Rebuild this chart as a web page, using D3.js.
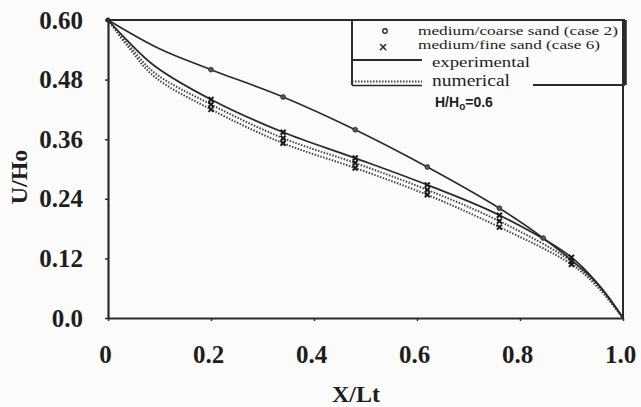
<!DOCTYPE html>
<html>
<head>
<meta charset="utf-8">
<script src="https://cdn.jsdelivr.net/npm/d3@7"></script>
<style>
  html, body { margin: 0; padding: 0; background: #fbfbfa; }
  svg { display: block; }
</style>
</head>
<body>
<svg id="chart" width="641" height="407"></svg>
<script>
// Dimensionless distance along the section, X/Lt
const xTicks = [0, 0.2, 0.4, 0.6, 0.8, 1.0];
const xTickLabels = ["0", "0.2", "0.4", "0.6", "0.8", "1.0"];
const yTicks = [0, 0.12, 0.24, 0.36, 0.48, 0.60];
const yTickLabels = ["0.0", "0.12", "0.24", "0.36", "0.48", "0.60"];

// Experimental, medium/coarse sand (case 2)
const exp2X = [0, 0.1, 0.2, 0.34, 0.48, 0.62, 0.76, 0.845, 0.95, 1.0];
const exp2Y = [0.6, 0.542, 0.5, 0.445, 0.379, 0.304, 0.221, 0.161, 0.07, 0];
const exp2Marked = [false, false, true, true, true, true, true, true, false, false];

// Experimental, medium/fine sand (case 6)
const exp6X = [0, 0.04, 0.09, 0.2, 0.34, 0.48, 0.62, 0.76, 0.9, 0.95, 1.0];
const exp6Y = [0.6, 0.556, 0.508, 0.44, 0.374, 0.322, 0.268, 0.207, 0.122, 0.07, 0];
const exp6Marked = [false, false, false, true, true, true, true, true, true, false, false];

// Numerical, case 2 and case 6
const numX = [0, 0.04, 0.09, 0.2, 0.34, 0.48, 0.62, 0.76, 0.9, 0.95, 1.0];
const num2Y = [0.6, 0.55, 0.494, 0.43, 0.362, 0.312, 0.258, 0.195, 0.114, 0.066, 0];
const num6Y = [0.6, 0.545, 0.486, 0.42, 0.352, 0.302, 0.248, 0.183, 0.108, 0.063, 0];
const numMarked = [false, false, false, true, true, true, true, true, true, false, false];

const ink = "#2a2a2a";
const serif = "'Liberation Serif', 'Times New Roman', serif";
const svg = d3.select("#chart");

const plotLeft = 108, plotRight = 623, plotTop = 20, plotBottom = 318;
const x = d3.scaleLinear().domain([0, 1]).range([plotLeft, plotRight]);
const y = d3.scaleLinear().domain([0, 0.6]).range([plotBottom, plotTop]);

// axes
const xAxis = d3.axisBottom(x).tickValues(xTicks).tickFormat((d, i) => xTickLabels[i]).tickSizeInner(3).tickSizeOuter(0).tickPadding(24);
const yAxis = d3.axisLeft(y).tickValues(yTicks).tickFormat((d, i) => yTickLabels[i]).tickSizeInner(3).tickSizeOuter(0).tickPadding(24);

const gx = svg.append("g").attr("transform", `translate(0,${plotBottom})`).call(xAxis);
const gy = svg.append("g").attr("transform", `translate(${plotLeft},0)`).call(yAxis);

[gx, gy].forEach(g => {
  g.select(".domain").attr("stroke", ink).attr("stroke-width", 2.2);
  g.selectAll(".tick line").attr("stroke", ink).attr("stroke-width", 1.5);
  g.selectAll(".tick text")
    .attr("fill", "#1e1e1e")
    .style("font-family", serif)
    .style("font-weight", "bold")
    .style("font-size", "25px");
});
gx.selectAll(".tick text").attr("dy", "0.71em").attr("dx", -3);
gy.selectAll(".tick text").attr("x", -25);

// top and right frame
svg.append("line").attr("x1", plotLeft).attr("x2", plotRight + 2).attr("y1", plotTop).attr("y2", plotTop)
  .attr("stroke", ink).attr("stroke-width", 2);
svg.append("line").attr("x1", plotRight).attr("x2", plotRight).attr("y1", plotTop).attr("y2", plotBottom + 1)
  .attr("stroke", ink).attr("stroke-width", 2);

// axis titles
svg.append("text")
  .attr("x", 356).attr("y", 402)
  .attr("text-anchor", "middle")
  .attr("fill", "#1e1e1e")
  .style("font-family", serif)
  .style("font-weight", "bold").style("font-size", "24px")
  .text("X/Lt");
svg.append("text")
  .attr("transform", "translate(27,177) rotate(-90)")
  .attr("text-anchor", "middle")
  .attr("fill", "#1e1e1e")
  .style("font-family", serif)
  .style("font-weight", "bold").style("font-size", "24px")
  .text("U/Ho");

// curves
const line = d3.line().x(d => x(d[0])).y(d => y(d[1])).curve(d3.curveCatmullRom.alpha(0.5));
const zip = (xs, ys) => xs.map((v, i) => [v, ys[i]]);

const plot = svg.append("g");
plot.append("path").datum(zip(numX, num6Y)).attr("d", line)
  .attr("fill", "none").attr("stroke", "#444").attr("stroke-width", 2).attr("stroke-dasharray", "1.5,1.5");
plot.append("path").datum(zip(numX, num2Y)).attr("d", line)
  .attr("fill", "none").attr("stroke", "#444").attr("stroke-width", 2).attr("stroke-dasharray", "1.5,1.5");
plot.append("path").datum(zip(exp6X, exp6Y)).attr("d", line)
  .attr("fill", "none").attr("stroke", ink).attr("stroke-width", 1.8);
plot.append("path").datum(zip(exp2X, exp2Y)).attr("d", line)
  .attr("fill", "none").attr("stroke", ink).attr("stroke-width", 1.6);

// markers
function crosses(xs, ys, marked, size, width) {
  const pts = zip(xs, ys).filter((d, i) => marked[i]);
  plot.append("g").selectAll("path").data(pts).join("path")
    .attr("d", d => {
      const cx = x(d[0]), cy = y(d[1]);
      return `M${cx - size},${cy - size}L${cx + size},${cy + size}M${cx - size},${cy + size}L${cx + size},${cy - size}`;
    })
    .attr("stroke", "#1a1a1a").attr("stroke-width", width);
}
crosses(numX, num6Y, numMarked, 2.5, 2);
crosses(numX, num2Y, numMarked, 2.5, 2);
crosses(exp6X, exp6Y, exp6Marked, 2.5, 2);

plot.append("g").selectAll("circle")
  .data(zip(exp2X, exp2Y).filter((d, i) => exp2Marked[i]))
  .join("circle")
  .attr("cx", d => x(d[0])).attr("cy", d => y(d[1]))
  .attr("r", 2.4).attr("fill", "#555").attr("stroke", ink).attr("stroke-width", 0.8);

// origin dot
svg.append("circle").attr("cx", x(0)).attr("cy", y(0.6)).attr("r", 2.5).attr("fill", ink);

// legend box
const lg = svg.append("g");
const lx0 = 352, lx1 = 625, ly0 = 20, ly1 = 85;
lg.append("line").attr("x1", lx0).attr("x2", lx0).attr("y1", ly0).attr("y2", ly1)
  .attr("stroke", ink).attr("stroke-width", 2);
lg.append("line").attr("x1", 533).attr("x2", lx1).attr("y1", ly1).attr("y2", ly1)
  .attr("stroke", ink).attr("stroke-width", 2);
lg.append("line").attr("x1", lx1).attr("x2", lx1).attr("y1", ly0).attr("y2", ly1)
  .attr("stroke", ink).attr("stroke-width", 3.5);

// experimental sample
lg.append("line").attr("x1", lx0).attr("x2", 422).attr("y1", 60).attr("y2", 60)
  .attr("stroke", ink).attr("stroke-width", 1.8);
// numerical sample
lg.append("line").attr("x1", lx0).attr("x2", 422).attr("y1", 81.5).attr("y2", 81.5)
  .attr("stroke", "#444").attr("stroke-width", 2).attr("stroke-dasharray", "1.5,1.5");
lg.append("line").attr("x1", lx0).attr("x2", 422).attr("y1", 85.5).attr("y2", 85.5)
  .attr("stroke", ink).attr("stroke-width", 1.6);

// legend symbols
lg.append("circle").attr("cx", 385).attr("cy", 31).attr("r", 2.2)
  .attr("fill", "none").attr("stroke", ink).attr("stroke-width", 1.4);
lg.append("text").attr("x", 383).attr("y", 51).attr("text-anchor", "middle")
  .attr("fill", ink)
  .style("font-family", "'DejaVu Sans', sans-serif").style("font-weight", "bold").style("font-size", "12px")
  .text("×");

lg.append("text").attr("x", 418).attr("y", 35).attr("fill", "#1e1e1e")
  .style("font-family", serif).style("font-size", "13.5px")
  .attr("textLength", 200).attr("lengthAdjust", "spacingAndGlyphs")
  .text("medium/coarse sand (case 2)");
lg.append("text").attr("x", 418).attr("y", 49).attr("fill", "#1e1e1e")
  .style("font-family", serif).style("font-size", "13px")
  .attr("textLength", 182).attr("lengthAdjust", "spacingAndGlyphs")
  .text("medium/fine sand (case 6)");
lg.append("text").attr("x", 432).attr("y", 67).attr("fill", "#1e1e1e")
  .style("font-family", serif).style("font-size", "15.5px")
  .attr("textLength", 98).attr("lengthAdjust", "spacingAndGlyphs")
  .text("experimental");
lg.append("text").attr("x", 432).attr("y", 86).attr("fill", "#1e1e1e")
  .style("font-family", serif).style("font-size", "17px")
  .attr("textLength", 78).attr("lengthAdjust", "spacingAndGlyphs")
  .text("numerical");

const hl = lg.append("text").attr("x", 435).attr("y", 107).attr("fill", "#1e1e1e")
  .style("font-family", "'Liberation Sans', Arial, sans-serif").style("font-weight", "bold").style("font-size", "14px");
hl.append("tspan").text("H/H");
hl.append("tspan").attr("dy", 3).style("font-size", "10px").text("o");
hl.append("tspan").attr("dy", -3).text("=0.6");
</script>
</body>
</html>
